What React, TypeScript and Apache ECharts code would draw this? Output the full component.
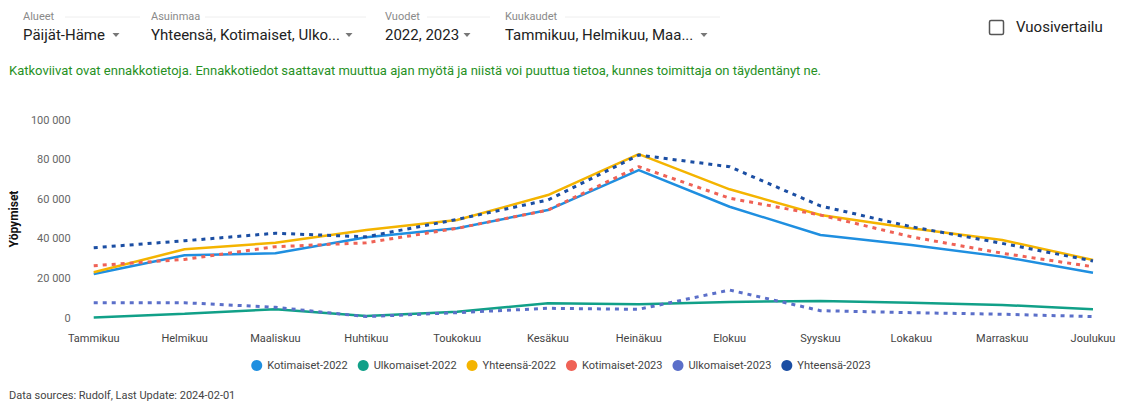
import React, { useEffect, useRef } from "react";
import * as echarts from "echarts";

const months = ["Tammikuu", "Helmikuu", "Maaliskuu", "Huhtikuu", "Toukokuu", "Kesäkuu", "Heinäkuu", "Elokuu", "Syyskuu", "Lokakuu", "Marraskuu", "Joulukuu"];

const kotimaiset2022 = [22200, 31700, 32700, 40800, 45300, 54500, 74700, 56200, 41900, 36900, 31000, 22900];
const ulkomaiset2022 = [300, 2200, 4400, 1000, 3200, 7400, 6900, 8100, 8600, 7700, 6600, 4400];
const yhteensa2022 = [23100, 34700, 38000, 44400, 49500, 62100, 82800, 65000, 52000, 45300, 39400, 29300];
const kotimaiset2023 = [26400, 29600, 36000, 38000, 45300, 54500, 76400, 60500, 52000, 41000, 32700, 25900];
const ulkomaiset2023 = [7700, 7700, 5400, 700, 2700, 4900, 4400, 14100, 3700, 2700, 1900, 700];
const yhteensa2023 = [35500, 39000, 42800, 41000, 49800, 59600, 82300, 76400, 56600, 46100, 37700, 28800];

const seriesNames = ["Kotimaiset-2022", "Ulkomaiset-2022", "Yhteensä-2022", "Kotimaiset-2023", "Ulkomaiset-2023", "Yhteensä-2023"];
const seriesColors = ["#1f8fe0", "#11a088", "#f4b400", "#ef6256", "#5b6fc9", "#1b4ea3"];
const seriesDashed = [false, false, false, true, true, true];
const seriesData = [kotimaiset2022, ulkomaiset2022, yhteensa2022, kotimaiset2023, ulkomaiset2023, yhteensa2023];

const filterLabels = ["Alueet", "Asuinmaa", "Vuodet", "Kuukaudet"];
const filterValues = ["Päijät-Häme", "Yhteensä, Kotimaiset, Ulko...", "2022, 2023", "Tammikuu, Helmikuu, Maa..."];
const notice = "Katkoviivat ovat ennakkotietoja. Ennakkotiedot saattavat muuttua ajan myötä ja niistä voi puuttua tietoa, kunnes toimittaja on täydentänyt ne.";
const footer = "Data sources: Rudolf, Last Update: 2024-02-01";

const FONT = "Roboto, 'Noto Sans', sans-serif";

export default function App() {
  const ref = useRef<HTMLDivElement>(null);
  useEffect(() => {
    if (!ref.current) return;
    const chart = echarts.init(ref.current, null, { renderer: "svg" });
    const filterX = [23, 151, 385, 505];
    const arrowX = [116, 349, 467, 704];
    const lineEnd = [140, 366, 490, 720];
    const graphics: any[] = [];
    filterLabels.forEach((l, i) => {
      graphics.push({ type: "text", left: filterX[i], top: 11, style: { text: l, fill: "#8a8a8a", font: `11px ${FONT}` } });
      graphics.push({ type: "line", shape: { x1: filterX[i] + l.length * 6 + 6, y1: 17, x2: lineEnd[i], y2: 17 }, style: { stroke: "#eeeeee", lineWidth: 1 } });
      graphics.push({ type: "text", left: filterX[i], top: 27, style: { text: filterValues[i], fill: "#222222", font: `15px ${FONT}` } });
      graphics.push({ type: "polygon", shape: { points: [[arrowX[i] - 3.5, 33], [arrowX[i] + 3.5, 33], [arrowX[i], 37]] }, style: { fill: "#777777" } });
    });
    graphics.push({ type: "rect", shape: { x: 989.5, y: 20.5, width: 14, height: 14, r: 1.5 }, style: { fill: "#fff", stroke: "#555", lineWidth: 1.5 } });
    graphics.push({ type: "text", left: 1016, top: 19, style: { text: "Vuosivertailu", fill: "#222222", font: `15px ${FONT}` } });
    graphics.push({ type: "text", left: 9, top: 64, style: { text: notice, fill: "#27911f", font: `13px ${FONT}` } });
    graphics.push({ type: "text", left: 9, top: 390, style: { text: footer, fill: "#444444", font: `11px ${FONT}` } });

    chart.setOption({
      animation: false,
      textStyle: { fontFamily: FONT },
      grid: { left: 93, right: 29, top: 120, bottom: 85, containLabel: false },
      legend: {
        data: seriesNames,
        top: 355,
        left: "center",
        icon: "circle",
        itemWidth: 11,
        itemHeight: 11,
        itemGap: 10,
        textStyle: { color: "#444", fontSize: 11, fontFamily: FONT },
      },
      xAxis: {
        type: "category",
        data: months,
        boundaryGap: false,
        axisLine: { show: false },
        axisTick: { show: false },
        axisLabel: { color: "#444", fontSize: 11, margin: 15, interval: 0 },
        splitLine: { show: false },
      },
      yAxis: {
        type: "value",
        min: 0,
        max: 100000,
        interval: 20000,
        name: "Yöpymiset",
        nameLocation: "middle",
        nameGap: 55,
        nameRotate: 90,
        nameTextStyle: { color: "#111", fontWeight: "bold", fontSize: 12, fontFamily: FONT },
        axisLine: { show: false },
        axisTick: { show: false },
        splitLine: { show: false },
        axisLabel: {
          color: "#666",
          fontSize: 11,
          margin: 23,
          formatter: (v: number) => String(v).replace(/\B(?=(\d{3})+(?!\d))/g, " "),
        },
      },
      series: seriesNames.map((name, i) => ({
        name,
        type: "line",
        data: seriesData[i],
        symbol: "none",
        color: seriesColors[i],
        lineStyle: { width: seriesDashed[i] ? 3 : 2.5, color: seriesColors[i], type: seriesDashed[i] ? [4, 5] : "solid" },
      })),
      graphic: graphics,
    });
    return () => chart.dispose();
  }, []);
  return <div ref={ref} style={{ position: "fixed", left: 0, top: 0, width: 1122, height: 403, background: "#fff" }} />;
}
